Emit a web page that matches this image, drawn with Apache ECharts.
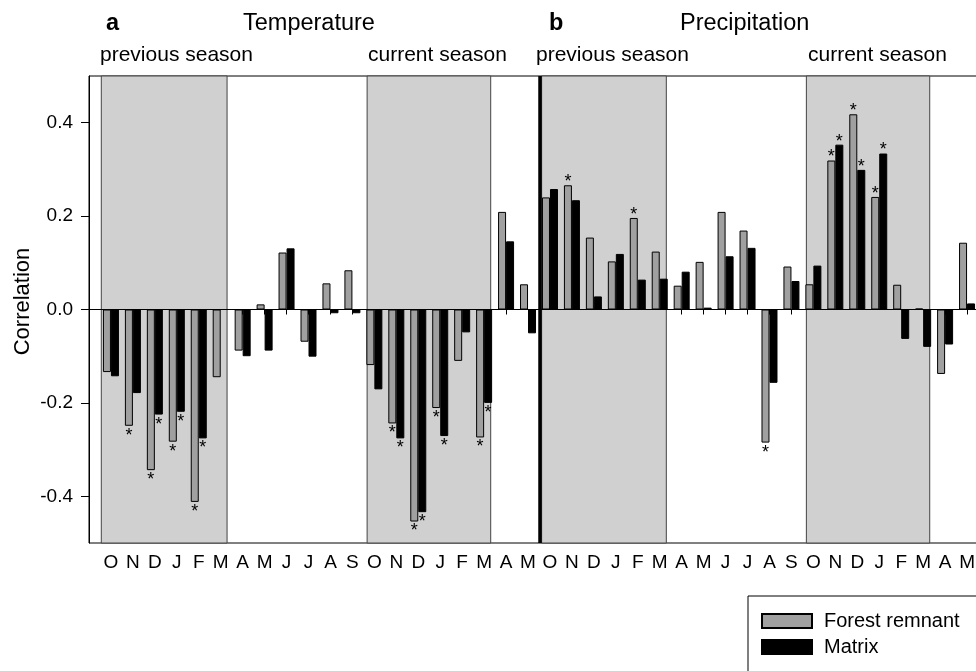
<!DOCTYPE html>
<html>
<head>
<meta charset="utf-8">
<script src="https://cdn.jsdelivr.net/npm/echarts@6/dist/echarts.min.js"></script>
<style>
  html, body { margin: 0; padding: 0; background: #fff; }
  #chart { width: 976px; height: 671px; }
</style>
</head>
<body>
<div id="chart"></div>
<script>
// months, panel a (temperature) then panel b (precipitation)
const months = [
  "O", "N", "D", "J", "F", "M", "A", "M", "J", "J", "A", "S", "O", "N", "D", "J", "F", "M", "A", "M",
  "O", "N", "D", "J", "F", "M", "A", "M", "J", "J", "A", "S", "O", "N", "D", "J", "F", "M", "A", "M"
];
const forestRemnant = [
  -0.134, -0.249, -0.344, -0.283, -0.412, -0.145,
  -0.088, 0.011, 0.122, -0.069, 0.056, 0.084,
  -0.119, -0.244, -0.454, -0.211, -0.110, -0.274,
  0.209, 0.054,
  0.240, 0.266, 0.154, 0.103, 0.196, 0.124,
  0.051, 0.102, 0.209, 0.169, -0.285, 0.092,
  0.054, 0.319, 0.418, 0.241, 0.053, 0.002,
  -0.138, 0.143
];
const matrix = [
  -0.143, -0.179, -0.225, -0.219, -0.276, 0,
  -0.100, -0.088, 0.131, -0.101, -0.008, -0.008,
  -0.171, -0.276, -0.434, -0.271, -0.049, -0.200,
  0.146, -0.051,
  0.258, 0.234, 0.028, 0.119, 0.064, 0.066,
  0.081, 0.004, 0.114, 0.132, -0.157, 0.061,
  0.094, 0.353, 0.299, 0.334, -0.063, -0.080,
  -0.075, 0.013
];
// positions (1-based month index) marked with an asterisk
const forestSig = [2, 3, 4, 5, 14, 15, 16, 18, 22, 25, 31, 34, 35, 36];
const matrixSig = [3, 4, 5, 14, 15, 16, 18, 34, 35, 36];
// shaded seasons on a 0..41 scale
const seasonSpans = [[0.56, 6.29], [12.67, 18.3], [20.62, 26.3], [32.68, 38.3]];
const panelDivider = 20.55;
const yTicks = [-0.4, -0.2, 0, 0.2, 0.4];

const FONT = "Liberation Sans, Arial, Helvetica, sans-serif";

function barData(values, sig) {
  let list = [null];
  values.map((v, i) => {
    if (sig.indexOf(i + 1) >= 0) {
      list.push({
        value: v,
        label: v < 0
          ? { show: true, position: "bottom", offset: [0, 0] }
          : { show: true, position: "top", offset: [0, 7] },
      });
    } else {
      list.push(v);
    }
  });
  list.push(null);
  return list;
}

const chart = echarts.init(document.getElementById("chart"));

const starLabel = {
  show: false,
  formatter: "*",
  color: "#000",
  fontSize: 18,
  fontFamily: FONT,
  distance: 1,
};

let options = {
  animation: false,
  textStyle: { fontFamily: FONT },
  title: [
    { text: "a", left: 106, top: 12, padding: 0, textStyle: { fontSize: 23.5, fontWeight: "bold", color: "#000", fontFamily: FONT } },
    { text: "Temperature", left: 243, top: 12, padding: 0, textStyle: { fontSize: 23.5, fontWeight: "normal", color: "#000", fontFamily: FONT } },
    { text: "b", left: 549, top: 12, padding: 0, textStyle: { fontSize: 23.5, fontWeight: "bold", color: "#000", fontFamily: FONT } },
    { text: "Precipitation", left: 680, top: 12, padding: 0, textStyle: { fontSize: 23.5, fontWeight: "normal", color: "#000", fontFamily: FONT } },
    { text: "previous season", left: 100, top: 44.5, padding: 0, textStyle: { fontSize: 21, fontWeight: "normal", color: "#000", fontFamily: FONT } },
    { text: "current season", left: 368, top: 44.5, padding: 0, textStyle: { fontSize: 21, fontWeight: "normal", color: "#000", fontFamily: FONT } },
    { text: "previous season", left: 536, top: 44.5, padding: 0, textStyle: { fontSize: 21, fontWeight: "normal", color: "#000", fontFamily: FONT } },
    { text: "current season", left: 808, top: 44.5, padding: 0, textStyle: { fontSize: 21, fontWeight: "normal", color: "#000", fontFamily: FONT } },
  ],
  legend: {
    orient: "vertical",
    left: 748,
    top: 596,
    height: 120,
    padding: [15, 30, 20, 13],
    itemWidth: 50,
    itemHeight: 14,
    itemGap: 6,
    borderColor: "#000",
    borderWidth: 1,
    icon: "rect",
    textStyle: { fontSize: 20, color: "#000", fontFamily: FONT, padding: [0, 0, 0, 7] },
    data: ["Forest remnant", "Matrix"],
  },
  grid: {
    left: 89,
    top: 76,
    bottom: 128,
    right: -13,
    outerBoundsMode: "none",
    show: true,
    borderColor: "#000",
    borderWidth: 1,
    containLabel: false,
  },
  xAxis: [
    {
      type: "category",
      data: [""].concat(months, [""]),
      boundaryGap: false,
      axisLine: { lineStyle: { color: "#000", width: 1 } },
      axisTick: { show: true, interval: 0, length: 5, lineStyle: { color: "#000" } },
      axisLabel: { interval: 0, color: "#000", fontSize: 19, margin: 10, fontFamily: FONT },
      splitLine: { show: false },
    },
    {
      type: "value",
      min: 0,
      max: 41,
      show: false,
      splitLine: { show: false },
    },
  ],
  yAxis: {
    type: "value",
    min: -0.5,
    max: 0.5,
    interval: 0.1,
    name: "Correlation",
    nameLocation: "middle",
    nameRotate: 90,
    nameGap: 55,
    nameMoveOverlap: false,
    nameTextStyle: { fontSize: 22, color: "#000", fontFamily: FONT, padding: [0, 0, 0, 16] },
    axisLine: { show: true, lineStyle: { color: "#000" } },
    axisTick: { show: true, length: 8, customValues: yTicks, lineStyle: { color: "#000" } },
    axisLabel: {
      color: "#000",
      fontSize: 19,
      margin: 16,
      fontFamily: FONT,
      customValues: yTicks,
      formatter: (v) => v.toFixed(1),
    },
    splitLine: { show: false },
  },
  series: [
    {
      name: "Forest remnant",
      type: "bar",
      data: barData(forestRemnant, forestSig),
      barWidth: 8,
      barGap: "0%",
      z: 2,
      itemStyle: { color: "#a0a0a0", borderColor: "#000", borderWidth: 1 },
      label: starLabel,
    },
    {
      name: "Matrix",
      type: "bar",
      data: barData(matrix, matrixSig),
      barWidth: 8,
      barGap: "0%",
      z: 2,
      itemStyle: { color: "#000", borderColor: "#000", borderWidth: 1 },
      label: starLabel,
    },
    {
      // season shading
      type: "line",
      xAxisIndex: 1,
      data: [],
      z: 1,
      silent: true,
      markArea: {
        silent: true,
        itemStyle: { color: "#d0d0d0", borderColor: "#444", borderWidth: 1 },
        data: seasonSpans.map((s) => [{ xAxis: s[0] }, { xAxis: s[1] }]),
      },
    },
    {
      // zero line and panel divider
      type: "line",
      xAxisIndex: 1,
      data: [],
      z: 3,
      silent: true,
      markLine: {
        silent: true,
        symbol: "none",
        label: { show: false },
        data: [
          { yAxis: 0, lineStyle: { color: "#000", width: 1, type: "solid" } },
          { xAxis: panelDivider, lineStyle: { color: "#000", width: 3.5, type: "solid" } },
        ],
      },
    },
  ],
};

chart.setOption(options);
</script>
</body>
</html>
